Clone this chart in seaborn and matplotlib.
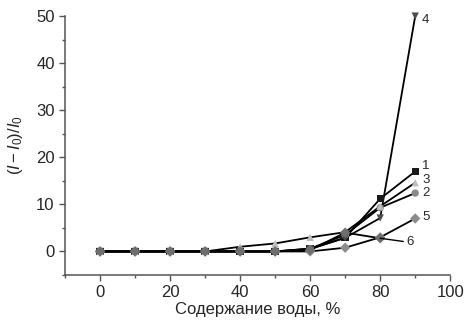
import numpy as np
import pandas as pd
import matplotlib
matplotlib.use("Agg")
import matplotlib.pyplot as plt
from matplotlib.ticker import MultipleLocator
import seaborn as sns

water = [0, 10, 20, 30, 40, 50, 60, 70, 80, 90]
s1 = [0, 0, 0, 0, 0, 0, 0.6, 2.9, 11.2, 17.0]
s2 = [0, 0, 0, 0, 0, 0, 0.6, 3.5, 9.3, 12.4]
s3 = [0, 0, 0, 0, 1.0, 1.7, 3.0, 4.1, 9.6, 14.6]
s4 = [0, 0, 0, 0, 0, 0, 0.5, 2.9, 7.1, 50.0]
s5 = [0, 0, 0, 0, 0, 0, 0.0, 0.8, 3.0, 7.0]
s6 = [0, 0, 0, 0, 0, 0, 0.3, 4.0, 2.8]
series_names = ["1", "2", "3", "4", "5", "6"]
series_vals = [s1, s2, s3, s4, s5, s6]
xlabel = "Содержание воды, %"
ylabel = r"$(I-I_0)/I_0$"

rows = []
for name, vals in zip(series_names, series_vals):
    for x, y in zip(water, vals):
        rows.append({"water": x, "val": y, "series": name})
df = pd.DataFrame(rows)

sns.set_style("ticks")
plt.rcParams["font.family"] = ["Liberation Sans", "DejaVu Sans"]
plt.rcParams["mathtext.fontset"] = "custom"
plt.rcParams["mathtext.it"] = "Liberation Sans:italic"
plt.rcParams["mathtext.rm"] = "Liberation Sans"

fig = plt.figure(figsize=(4.68, 3.22), dpi=100)
ax = fig.add_axes([0.139, 0.146, 0.823, 0.804])

sns.lineplot(data=df, x="water", y="val", units="series", estimator=None,
             color="black", lw=1.3, ax=ax, sort=False, legend=False)
palette = {"1": "#1a1a1a", "2": "#8a8a8a", "3": "#bdbdbd", "4": "#4d4d4d",
           "5": "#8c8c8c", "6": "#6e6e6e"}
markers = {"1": "s", "2": "o", "3": "^", "4": "v", "5": "D", "6": "D"}
sc = sns.scatterplot(data=df, x="water", y="val", hue="series", style="series",
                     palette=palette, markers=markers, s=28, linewidth=0,
                     ax=ax, legend=False, zorder=3)
for coll in ax.collections:
    coll.set_clip_on(False)

offsets = {"1": (5, 4), "2": (5, 0), "3": (5, 2), "4": (5, -3), "5": (5, 1)}
for name, vals in zip(series_names, series_vals):
    if name in offsets:
        ax.annotate(name, xy=(water[len(vals) - 1], vals[-1]), xytext=offsets[name],
                    textcoords="offset points", fontsize=9.5, va="center", ha="left")
ax.annotate("6", xy=(water[len(s6) - 1], s6[-1]), xytext=(19, -3),
            textcoords="offset points", fontsize=9.5, va="center", ha="left",
            arrowprops=dict(arrowstyle="-", color="black", lw=1.0,
                            shrinkA=0, shrinkB=0))

ax.set_xlim(-10, 100)
ax.set_ylim(-5, 50)
ax.xaxis.set_major_locator(MultipleLocator(20))
ax.xaxis.set_minor_locator(MultipleLocator(10))
ax.yaxis.set_major_locator(MultipleLocator(10))
ax.yaxis.set_minor_locator(MultipleLocator(5))
ax.tick_params(which="major", direction="out", length=4, width=1, labelsize=12,
               color="#555555")
ax.tick_params(which="minor", direction="out", length=2.5, width=1, color="#555555")
for sp in ["top", "right"]:
    ax.spines[sp].set_visible(False)
for sp in ["left", "bottom"]:
    ax.spines[sp].set_color("#555555")
    ax.spines[sp].set_linewidth(1.1)
ax.set_xlabel(xlabel, fontsize=12, labelpad=1)
ax.set_ylabel(ylabel, fontsize=12, labelpad=8)

fig.savefig("out.png", dpi=100)
